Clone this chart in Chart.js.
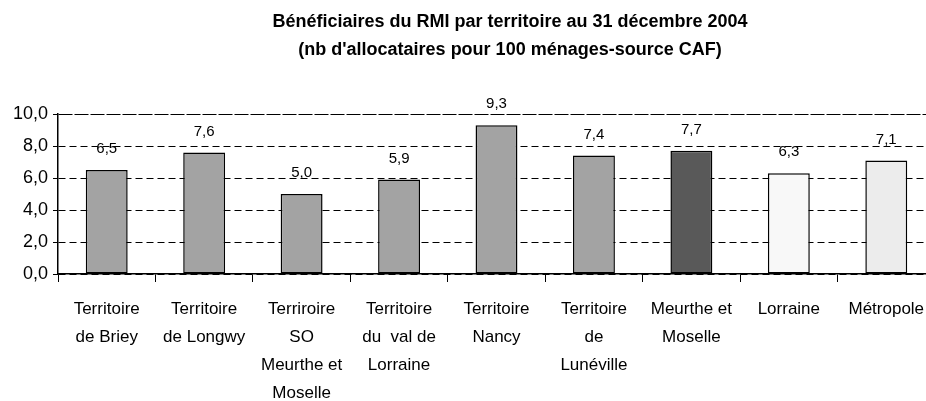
<!DOCTYPE html>
<html>
<head>
<meta charset="utf-8">
<script src="https://cdn.jsdelivr.net/npm/chart.js@4/dist/chart.umd.min.js"></script>
<style>
    body { margin: 0; background: #fff; overflow: hidden; }
    #wrap { width: 940px; height: 401px; }
</style>
</head>
<body>
<div id="wrap"><canvas id="rmi-chart" width="940" height="401"></canvas></div>
<script>
// Bénéficiaires du RMI, nb d'allocataires pour 100 ménages (source CAF)
const territoires = [
    ['Territoire', 'de Briey'],
    ['Territoire', 'de Longwy'],
    ['Terriroire', 'SO', 'Meurthe et', 'Moselle'],
    ['Territoire', 'du  val de', 'Lorraine'],
    ['Territoire', 'Nancy'],
    ['Territoire', 'de', 'Lunéville'],
    ['Meurthe et', 'Moselle'],
    'Lorraine',
    'Métropole'
];
const tauxRMI = [6.5, 7.6, 5.0, 5.9, 9.3, 7.4, 7.7, 6.3, 7.1];
const couleurs = ['#a3a3a3', '#a3a3a3', '#a3a3a3', '#a3a3a3', '#a3a3a3', '#a3a3a3', '#595959', '#f8f8f8', '#ececec'];
const yTicks = [0, 2, 4, 6, 8, 10];

const fmt = v => v.toFixed(1).replace('.', ',');
const FONT = "'Liberation Sans', Arial, sans-serif";

// value labels above the bars
const valueLabels = {
    id: 'valueLabels',
    afterDatasetsDraw(chart) {
        const ctx = chart.ctx;
        ctx.save();
        ctx.font = '15px ' + FONT;
        ctx.fillStyle = '#000';
        ctx.textAlign = 'center';
        ctx.textBaseline = 'middle';
        chart.getDatasetMeta(0).data.forEach((bar, i) => {
            ctx.fillText(fmt(tauxRMI[i]), bar.x, bar.y - 21);
        });
        ctx.restore();
    }
};

// two-line title, centred like the original
const titre = {
    id: 'titre',
    afterDraw(chart) {
        const ctx = chart.ctx;
        ctx.save();
        ctx.font = 'bold 18px ' + FONT;
        ctx.fillStyle = '#000';
        ctx.textAlign = 'center';
        ctx.textBaseline = 'middle';
        ctx.fillText('Bénéficiaires du RMI par territoire au 31 décembre 2004', 510, 22);
        ctx.fillText("(nb d'allocataires pour 100 ménages-source CAF)", 510, 50);
        ctx.restore();
    }
};

new Chart(document.getElementById('rmi-chart'), {
    type: 'bar',
    data: {
        labels: territoires,
        datasets: [{
            data: tauxRMI,
            backgroundColor: couleurs,
            borderColor: '#000',
            borderWidth: 1.5,
            borderSkipped: false,
            barPercentage: 0.43,
            categoryPercentage: 1
        }]
    },
    options: {
        responsive: false,
        animation: false,
        layout: { padding: { top: 114, right: 5, left: 0, bottom: 0 } },
        plugins: {
            legend: { display: false },
            tooltip: { enabled: false }
        },
        scales: {
            x: {
                afterFit(scale) { scale.height = 127; },
                grid: {
                    offset: true,
                    drawOnChartArea: false,
                    drawTicks: true,
                    tickLength: 8,
                    tickColor: '#000',
                    tickWidth: 1
                },
                border: { display: true, color: '#000', width: 1.5 },
                ticks: {
                    color: '#000',
                    maxRotation: 0,
                    autoSkip: false,
                    padding: 13,
                    font: { family: FONT, size: 17, lineHeight: 1.65 }
                }
            },
            y: {
                min: 0,
                max: 10,
                afterFit(scale) { scale.width = 58; },
                afterBuildTicks(scale) { scale.ticks = yTicks.map(v => ({ value: v })); },
                grid: {
                    color: '#000',
                    lineWidth: 1,
                    drawTicks: true,
                    tickLength: 5,
                    tickColor: '#000',
                    tickBorderDash: []
                },
                border: {
                    display: true,
                    color: '#000',
                    width: 1.5,
                    dash: ctx => (ctx.tick && ctx.tick.value === 10) ? [14, 2] : [7, 4]
                },
                ticks: {
                    color: '#000',
                    padding: 5,
                    font: { family: FONT, size: 18 },
                    callback: v => fmt(v)
                }
            }
        }
    },
    plugins: [valueLabels, titre]
});
</script>
</body>
</html>
